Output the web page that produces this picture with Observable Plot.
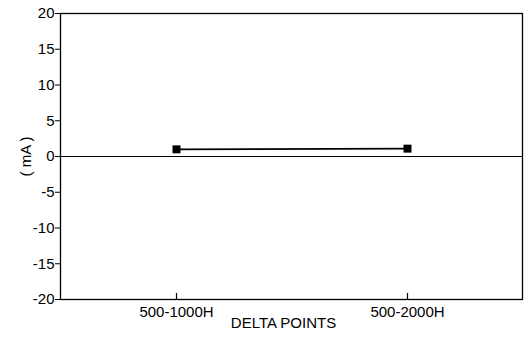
<!DOCTYPE html>
<html>
<head>
<meta charset="utf-8">
<script src="https://cdn.jsdelivr.net/npm/d3@7"></script>
<script src="https://cdn.jsdelivr.net/npm/@observablehq/plot@0.6"></script>
<style>
  html, body { margin: 0; padding: 0; background: #fff; }
  svg { font-family: "Liberation Sans", Arial, sans-serif; }
</style>
</head>
<body>
<div id="chart"></div>
<script>
const categories = ["500-1000H", "500-2000H"];
const values = [1.0, 1.1];
const yTicks = [-20, -15, -10, -5, 0, 5, 10, 15, 20];
const yTickLabels = ["-20", "-15", "-10", "-5", "0", "5", "10", "15", "20"];
const xTitle = "DELTA POINTS";
const yTitle = "( mA )";

const data = categories.map((c, i) => ({cat: c, v: values[i]}));

const chart = Plot.plot({
  width: 524,
  height: 340,
  marginLeft: 60,
  marginRight: 2,
  marginTop: 13,
  marginBottom: 41,
  style: {fontSize: "15px", fontFamily: "'Liberation Sans', Arial, sans-serif", color: "#000", background: "#fff"},
  x: {type: "point", domain: categories, padding: 0.5},
  y: {domain: [-20, 20]},
  marks: [
    Plot.frame({stroke: "#000", strokeWidth: 1.3}),
    Plot.ruleY([0], {stroke: "#000", strokeWidth: 1.2}),
    Plot.axisY({ticks: yTicks, tickSize: 5, tickFormat: () => "", label: yTitle, labelAnchor: "center", labelArrow: "none", labelOffset: 40, stroke: "#000"}),
    Plot.text(yTicks, {y: d => d, text: (d, i) => yTickLabels[i], frameAnchor: "left", textAnchor: "end", dx: -6, fill: "#000"}),
    Plot.axisX({tickSize: 0, tickPadding: 7, label: null}),
    Plot.text([xTitle], {text: d => d, frameAnchor: "bottom", dy: 28, dx: -8, fill: "#000"}),
    Plot.tickX(categories, {x: d => d, stroke: "#000", strokeWidth: 1.2, insetTop: 280}),
    Plot.line(data, {x: "cat", y: "v", stroke: "#000", strokeWidth: 1.8}),
    Plot.dot(data, {x: "cat", y: "v", symbol: "square", r: 4.5, fill: "#000", stroke: "none"})
  ]
});
document.getElementById("chart").appendChild(chart);
</script>
</body>
</html>
